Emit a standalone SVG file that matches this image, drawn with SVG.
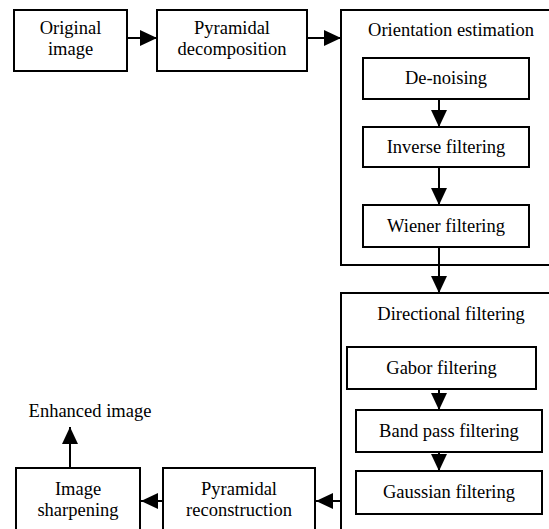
<svg xmlns="http://www.w3.org/2000/svg" width="549" height="529" viewBox="0 0 549 529">
<defs>
<marker id="ah" markerUnits="userSpaceOnUse" markerWidth="17" markerHeight="16" refX="17" refY="8" orient="auto">
<path d="M0,0 L17,8 L0,16 Z" fill="#000"/>
</marker>
</defs>
<rect x="0" y="0" width="549" height="529" fill="#fff"/>
<g fill="#fff" stroke="#000" stroke-width="2">
<g id="orientation"><rect x="341" y="10" width="230" height="255"/></g>
<g id="directional"><rect x="341" y="293" width="230" height="260"/></g>
<g id="original"><rect x="14" y="10" width="113" height="61"/></g>
<g id="pyrdec"><rect x="157" y="10" width="150" height="61"/></g>
<g id="denoising"><rect x="363" y="58" width="166" height="41"/></g>
<g id="inverse"><rect x="363" y="127" width="166" height="40"/></g>
<g id="wiener"><rect x="363" y="205" width="166" height="42"/></g>
<g id="gabor"><rect x="347" y="347" width="189" height="42"/></g>
<g id="bandpass"><rect x="356" y="410" width="186" height="42"/></g>
<g id="gaussian"><rect x="356" y="471" width="186" height="43"/></g>
<g id="pyrrec"><rect x="163" y="468" width="152" height="80"/></g>
<g id="sharpen"><rect x="16" y="468" width="124" height="80"/></g>
</g>
<g id="labels" fill="#000" text-anchor="middle">
<text x="451" y="36" font-family="Liberation Serif" font-size="18.5">Orientation estimation</text>
<text x="451" y="320" font-family="Liberation Serif" font-size="18.5">Directional filtering</text>
<text x="70.5" y="34" font-family="Liberation Serif" font-size="18.5">Original</text>
<text x="70.5" y="55" font-family="Liberation Serif" font-size="18.5">image</text>
<text x="232" y="34" font-family="Liberation Serif" font-size="18.5">Pyramidal</text>
<text x="232" y="55" font-family="Liberation Serif" font-size="18.5">decomposition</text>
<text x="446" y="84" font-family="Liberation Serif" font-size="18.5">De-noising</text>
<text x="446" y="153" font-family="Liberation Serif" font-size="18.5">Inverse filtering</text>
<text x="446" y="232" font-family="Liberation Serif" font-size="18.5">Wiener filtering</text>
<text x="441.5" y="374" font-family="Liberation Serif" font-size="18.5">Gabor filtering</text>
<text x="449" y="437" font-family="Liberation Serif" font-size="18.5">Band pass filtering</text>
<text x="449" y="498" font-family="Liberation Serif" font-size="18.5">Gaussian filtering</text>
<text x="239" y="495" font-family="Liberation Serif" font-size="18.5">Pyramidal</text>
<text x="239" y="516" font-family="Liberation Serif" font-size="18.5">reconstruction</text>
<text x="78" y="495" font-family="Liberation Serif" font-size="18.5">Image</text>
<text x="78" y="516" font-family="Liberation Serif" font-size="18.5">sharpening</text>
<text x="90" y="417" font-family="Liberation Serif" font-size="18.5">Enhanced image</text>
</g>
<g id="connectors" stroke="#000" stroke-width="2" marker-end="url(#ah)">
<line x1="127" y1="38" x2="157" y2="38"/>
<line x1="307" y1="38" x2="341" y2="38"/>
<line x1="439" y1="99" x2="439" y2="127"/>
<line x1="439" y1="167" x2="439" y2="205"/>
<line x1="439" y1="247" x2="439" y2="293"/>
<line x1="439" y1="389" x2="439" y2="410"/>
<line x1="439" y1="452" x2="439" y2="471"/>
<line x1="341" y1="501" x2="316" y2="501"/>
<line x1="163" y1="501" x2="141" y2="501"/>
<line x1="70" y1="468" x2="70" y2="427"/>
</g>
</svg>
